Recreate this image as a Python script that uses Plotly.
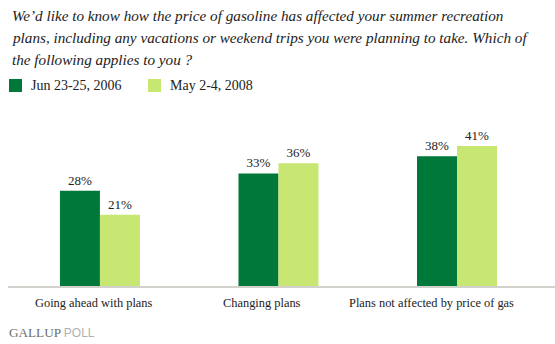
import plotly.graph_objects as go

categories = ["Going ahead with plans", "Changing plans", "Plans not affected by price of gas"]
series_names = ["Jun 23-25, 2006", "May 2-4, 2008"]
values_2006 = [28, 33, 38]
values_2008 = [21, 36, 41]
colors = ["#00783A", "#C8E672"]
label_shifts = [-6, -16, -25]

title_lines = [
    "We\u2019d like to know how the price of gasoline has affected your summer recreation",
    "plans, including any vacations or weekend trips you were planning to take. Which of",
    "the following applies to you ?",
]

SERIF = "Liberation Serif"
xs = list(range(len(categories)))

W, H = 555, 344
L, R, T, B = 8, 0, 115, 57
PW, PH = W - L - R, H - T - B


def px(x):
    return (x - L) / PW


def py(y):  # y measured from top of picture
    return (H - y - B) / PH


fig = go.Figure()
for name, vals, col in zip(series_names, [values_2006, values_2008], colors):
    fig.add_trace(go.Bar(
        x=xs, y=vals, name=name, marker=dict(color=col, line=dict(width=0)),
        text=[f"{v}%" for v in vals], textposition="outside", cliponaxis=False,
        textfont=dict(family=SERIF, size=13, color="#222"),
        showlegend=False,
    ))

fig.update_layout(
    width=W, height=H,
    margin=dict(l=L, r=R, t=T, b=B),
    paper_bgcolor="white", plot_bgcolor="white",
    barmode="group", bargap=0.552, bargroupgap=0,
    xaxis=dict(range=[-0.515, 2.549], showticklabels=False, showgrid=False,
               zeroline=False, showline=False, ticks=""),
    yaxis=dict(range=[0, 50], visible=False),
)

# axis baseline
fig.add_shape(type="line", xref="paper", yref="paper", x0=0, x1=1, y0=0, y1=0,
              line=dict(color="#D2D2CC", width=2))

# category labels
for x, c, s in zip(xs, categories, label_shifts):
    fig.add_annotation(x=x, y=0, xref="x", yref="paper", text=c, showarrow=False,
                       xanchor="center", yanchor="middle", yshift=-16, xshift=s,
                       font=dict(family=SERIF, size=12.4, color="#222"))

# title
for i, line in enumerate(title_lines):
    fig.add_annotation(x=px(10), y=py(15 + 22 * i), xref="paper", yref="paper",
                       text=f"<i>{line}</i>", showarrow=False,
                       xanchor="left", yanchor="middle",
                       font=dict(family=SERIF, size=15.2, color="#222"))

# custom legend
legend_x = [9, 148]
for name, col, lx in zip(series_names, colors, legend_x):
    fig.add_shape(type="rect", xref="paper", yref="paper",
                  x0=px(lx), x1=px(lx + 13), y0=py(92), y1=py(79),
                  fillcolor=col, line=dict(width=0))
    fig.add_annotation(x=px(lx + 20), y=py(85.5), xref="paper", yref="paper",
                       text=name, showarrow=False, xanchor="left", yanchor="middle",
                       font=dict(family=SERIF, size=14, color="#222"))

# Gallup logo
fig.add_annotation(x=px(7), y=py(332), xref="paper", yref="paper",
                   text="GALLUP <span style='font-family:Liberation Sans;color:#B0B0B0;font-size:12px'>POLL</span>",
                   showarrow=False, xanchor="left", yanchor="middle",
                   font=dict(family=SERIF, size=13.2, color="#6E6E6E"))

fig.write_html("out.html")
